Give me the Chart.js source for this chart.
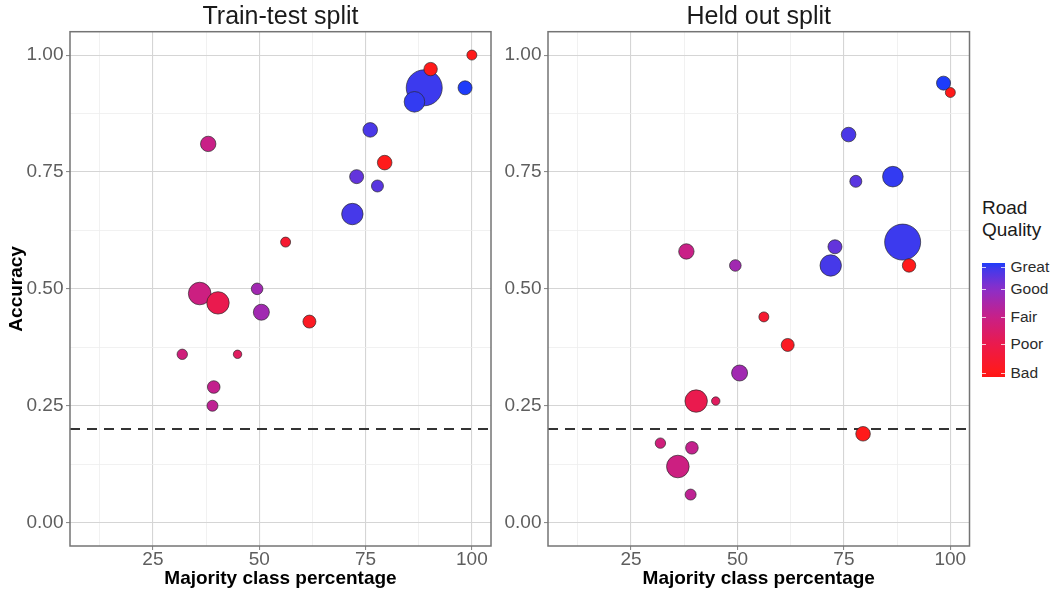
<!DOCTYPE html>
<html>
<head>
<meta charset="utf-8">
<script src="https://cdn.jsdelivr.net/npm/chart.js@4.4.1/dist/chart.umd.min.js"></script>
<style>
  html, body { margin: 0; padding: 0; background: #fff; }
  body { width: 1050px; height: 592px; position: relative; overflow: hidden;
         font-family: "Liberation Sans", Arial, sans-serif; }
  #wrap1 { position: absolute; left: 0; top: 0; width: 500px; height: 592px; }
  #wrap2 { position: absolute; left: 500px; top: 0; width: 480px; height: 592px; }
  #legend { position: absolute; left: 982px; top: 197px; color: #1a1a1a; }
  #legendTitle { font-size: 19px; line-height: 22px; }
  #bar { position: absolute; left: 0; top: 65.7px; width: 23px; height: 114px; }
  .lab { position: absolute; left: 28.5px; font-size: 15.5px; line-height: 18px; color: #2b2b2b; white-space: nowrap; }
  .tk { position: absolute; width: 4px; height: 1px; background: rgba(255,255,255,0.75); }
</style>
</head>
<body>
<div id="wrap1"><canvas id="c1" width="500" height="592"></canvas></div>
<div id="wrap2"><canvas id="c2" width="480" height="592"></canvas></div>
<div id="legend">
  <div id="legendTitle">Road<br>Quality</div>
  <div id="bar"></div>
</div>
<script>
// ---------------- data ----------------
const majorityClassPct  = [88.8, 100.0, 90.3, 98.4, 86.5, 76.1, 38.0, 79.5, 72.9, 77.8, 71.9, 56.2, 36.0, 40.3, 49.5, 50.5, 61.8, 31.9, 44.9, 39.3, 39.0];
const trainTestAccuracy = [0.93, 1.00, 0.97, 0.93, 0.90, 0.84, 0.81, 0.77, 0.74, 0.72, 0.66, 0.60, 0.49, 0.47, 0.50, 0.45, 0.43, 0.36, 0.36, 0.29, 0.25];
const heldOutAccuracy   = [0.60, 0.92, 0.55, 0.94, 0.74, 0.83, 0.58, 0.19, 0.59, 0.73, 0.55, 0.44, 0.12, 0.26, 0.55, 0.32, 0.38, 0.17, 0.26, 0.16, 0.06];
const roadQualityScore  = [5.0, 1.0, 1.0, 5.16, 5.05, 4.85, 3.1, 1.0, 4.6, 4.7, 4.9, 1.5, 3.0, 2.1, 3.8, 3.8, 1.2, 2.9, 2.4, 3.2, 3.3];
const sampleSize        = [1296, 100, 180, 196, 424, 213, 237, 213, 196, 144, 458, 100, 511, 502, 135, 256, 169, 108, 71, 159, 121];

const panelTitles   = ['Train-test split', 'Held out split'];
const xLimits       = [5.5, 104.5];
const yLimits       = [-0.05, 1.05];
const xGridValues   = [12.5, 25, 37.5, 50, 62.5, 75, 87.5, 100];
const xTickLabels   = [25, 50, 75, 100];
const yGridValues   = [0, 0.125, 0.25, 0.375, 0.5, 0.625, 0.75, 0.875, 1];
const yTickLabels   = [0, 0.25, 0.5, 0.75, 1];
const chanceLevel   = 0.2;
const qualityLabels = ['Great', 'Good', 'Fair', 'Poor', 'Bad'];
const qualityBreaks = [5.0, 4.17, 3.12, 2.07, 1.0];
const qualityRange  = [0.85, 5.16];

// ---------------- styles ----------------
const FONT = '"Liberation Sans", Arial, sans-serif';
const colourStops = [
  [0.85, [255, 20, 20]],
  [1.00, [255, 26, 26]],
  [2.07, [235, 26, 76]],
  [3.12, [200, 32, 136]],
  [4.17, [140, 46, 200]],
  [5.00, [60, 58, 238]],
  [5.16, [30, 60, 250]]
];
function scoreToColor(s) {
  if (s <= colourStops[0][0]) return 'rgb(' + colourStops[0][1].join(',') + ')';
  for (let i = 1; i < colourStops.length; i++) {
    if (s <= colourStops[i][0]) {
      const [s0, c0] = colourStops[i - 1], [s1, c1] = colourStops[i];
      const t = (s - s0) / (s1 - s0);
      const c = c0.map((v, k) => Math.round(v + (c1[k] - v) * t));
      return 'rgb(' + c.join(',') + ')';
    }
  }
  return 'rgb(' + colourStops[colourStops.length - 1][1].join(',') + ')';
}
function sizeToRadius(n) { return Math.sqrt(n) / 2; }

const MAJOR_GRID = '#d5d5d5', MINOR_GRID = '#ededed', TICK_COLOR = '#5e5e5e';
const isIn = (arr, v) => arr.some(a => Math.abs(a - v) < 1e-9);

const framePlugin = {
  id: 'frame',
  afterDatasetsDraw(chart) {
    const { ctx, chartArea: a } = chart;
    ctx.save();
    ctx.strokeStyle = '#747474';
    ctx.lineWidth = 1.5;
    ctx.strokeRect(a.left, a.top, a.right - a.left, a.bottom - a.top);
    ctx.restore();
  }
};
const chancePlugin = {
  id: 'chance',
  beforeDatasetsDraw(chart) {
    const { ctx, chartArea: a, scales } = chart;
    const y = scales.y.getPixelForValue(chanceLevel);
    ctx.save();
    ctx.strokeStyle = '#333333';
    ctx.lineWidth = 2;
    ctx.setLineDash([10, 7]);
    ctx.beginPath();
    ctx.moveTo(a.left, y);
    ctx.lineTo(a.right, y);
    ctx.stroke();
    ctx.restore();
  }
};

function buildPanel(canvasId, titleText, accuracy, yWidth, rightPad, showYTitle) {
  return new Chart(document.getElementById(canvasId), {
    type: 'bubble',
    data: {
      datasets: [{
        data: majorityClassPct.map((x, i) => ({ x: x, y: accuracy[i], r: sizeToRadius(sampleSize[i]) })),
        backgroundColor: roadQualityScore.map(scoreToColor),
        borderColor: 'rgba(40,40,40,0.85)',
        borderWidth: 0.8,
        hoverBorderWidth: 0.8,
        clip: false
      }]
    },
    options: {
      responsive: false,
      animation: false,
      devicePixelRatio: 1,
      events: [],
      layout: { autoPadding: false, padding: { left: 0, right: rightPad, top: 0, bottom: 0 } },
      plugins: {
        legend: { display: false },
        tooltip: { enabled: false },
        title: {
          display: true, text: titleText, fullSize: false,
          color: '#1a1a1a',
          font: { family: FONT, size: 25, weight: 'normal', lineHeight: 1.0 },
          padding: { top: 4.5, bottom: 2.2 }
        }
      },
      scales: {
        x: {
          type: 'linear', min: xLimits[0], max: xLimits[1],
          afterBuildTicks: s => { s.ticks = xGridValues.map(v => ({ value: v })); },
          afterFit: s => { s.height = 46; s.paddingLeft = 0; s.paddingRight = 0; },
          border: { display: false },
          grid: {
            color: c => (c.tick && isIn(xTickLabels, c.tick.value)) ? MAJOR_GRID : MINOR_GRID,
            lineWidth: c => (c.tick && isIn(xTickLabels, c.tick.value)) ? 1.1 : 0.8,
            tickColor: c => (c.tick && isIn(xTickLabels, c.tick.value)) ? '#8c8c8c' : 'rgba(0,0,0,0)',
            tickLength: 4, drawTicks: true
          },
          ticks: {
            autoSkip: false, maxRotation: 0, minRotation: 0, padding: 0,
            color: TICK_COLOR, font: { family: FONT, size: 19, lineHeight: 1.0 },
            callback: v => isIn(xTickLabels, v) ? String(v) : ''
          },
          title: {
            display: true, text: 'Majority class percentage', color: '#000',
            font: { family: FONT, size: 19, weight: 'bold', lineHeight: 1.2 },
            padding: { top: 0, bottom: 1.4 }
          }
        },
        y: {
          type: 'linear', min: yLimits[0], max: yLimits[1],
          afterBuildTicks: s => { s.ticks = yGridValues.map(v => ({ value: v })); },
          afterFit: s => { s.width = yWidth; s.paddingTop = 0; s.paddingBottom = 0; },
          border: { display: false },
          grid: {
            color: c => (c.tick && isIn(yTickLabels, c.tick.value)) ? MAJOR_GRID : MINOR_GRID,
            lineWidth: c => (c.tick && isIn(yTickLabels, c.tick.value)) ? 1.1 : 0.8,
            tickColor: c => (c.tick && isIn(yTickLabels, c.tick.value)) ? '#8c8c8c' : 'rgba(0,0,0,0)',
            tickLength: 4, drawTicks: true
          },
          ticks: {
            autoSkip: false, padding: 2.5,
            color: TICK_COLOR, font: { family: FONT, size: 19, lineHeight: 1.0 },
            callback: v => isIn(yTickLabels, v) ? v.toFixed(2) : ''
          },
          title: {
            display: showYTitle, text: 'Accuracy', color: '#000',
            font: { family: FONT, size: 19, weight: 'bold', lineHeight: 1.2 },
            padding: { top: 5.6, bottom: 0 }
          }
        }
      }
    },
    plugins: [chancePlugin, framePlugin]
  });
}

buildPanel('c1', panelTitles[0], trainTestAccuracy, 70, 9, true);
buildPanel('c2', panelTitles[1], heldOutAccuracy, 48, 10.5, false);

// ---------------- colour bar legend ----------------
(function () {
  const bar = document.getElementById('bar');
  const legend = document.getElementById('legend');
  const H = 114, barTop = 65.7;
  const stopsCss = [];
  for (let i = 0; i <= 20; i++) {
    const s = qualityRange[1] - (qualityRange[1] - qualityRange[0]) * i / 20;
    stopsCss.push(scoreToColor(s) + ' ' + (i * 5) + '%');
  }
  bar.style.background = 'linear-gradient(to bottom, ' + stopsCss.join(', ') + ')';
  qualityLabels.forEach((name, i) => {
    const yPos = barTop + (qualityRange[1] - qualityBreaks[i]) / (qualityRange[1] - qualityRange[0]) * H;
    const lab = document.createElement('div');
    lab.className = 'lab';
    lab.textContent = name;
    lab.style.top = (yPos - 9) + 'px';
    legend.appendChild(lab);
    [0, 19].forEach(xo => {
      const t = document.createElement('div');
      t.className = 'tk';
      t.style.left = xo + 'px';
      t.style.top = Math.round(yPos) + 'px';
      legend.appendChild(t);
    });
  });
})();
</script>
</body>
</html>
